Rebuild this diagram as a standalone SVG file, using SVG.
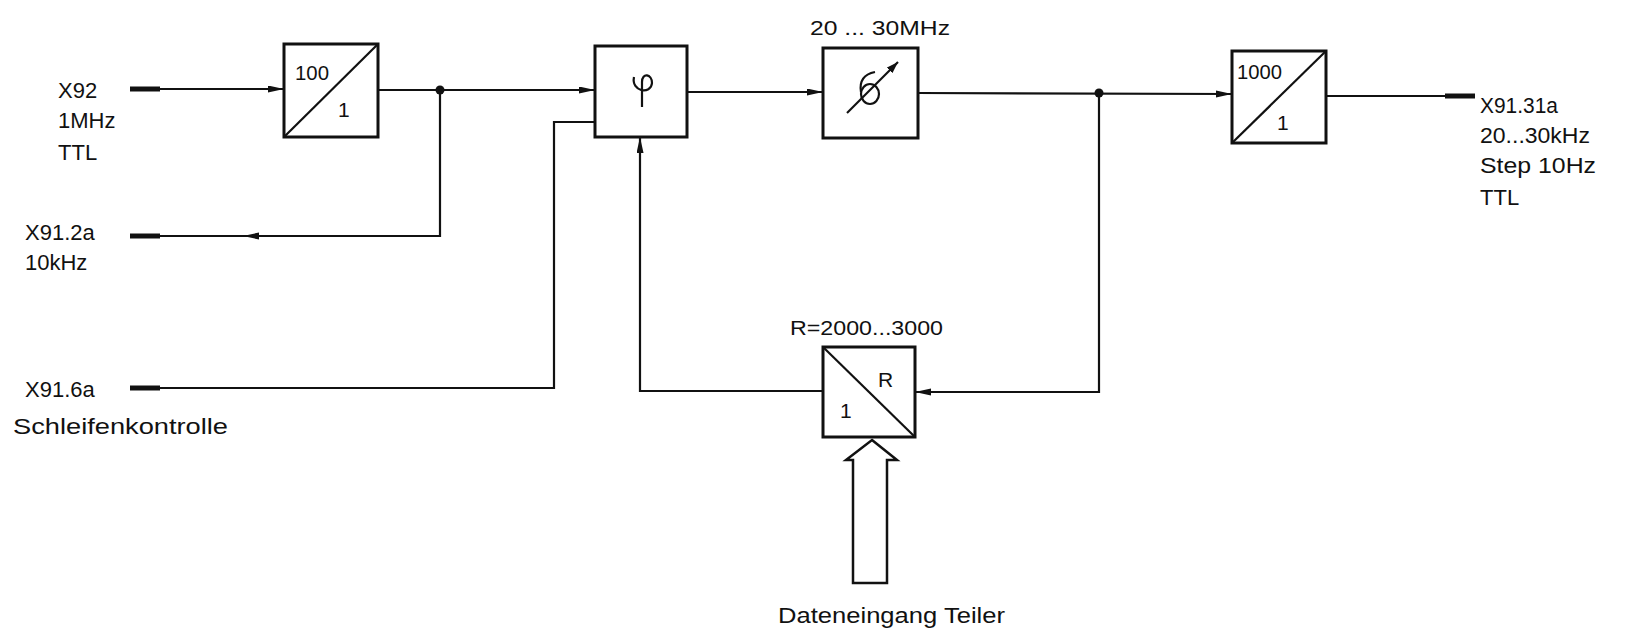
<svg xmlns="http://www.w3.org/2000/svg" width="1627" height="637" viewBox="0 0 1627 637">
<defs>
<marker id="arr" markerUnits="userSpaceOnUse" markerWidth="18" markerHeight="9" refX="16" refY="3.5" orient="auto">
<path d="M0,0 L16,3.5 L0,7 z" fill="#111"/>
</marker>
<marker id="arrs" markerUnits="userSpaceOnUse" markerWidth="14" markerHeight="10" refX="12" refY="4" orient="auto">
<path d="M0,0 L12,4 L0,8 z" fill="#111"/>
</marker>
</defs>
<style>
.box{fill:#fff;stroke:#111;stroke-width:3}
.ln{fill:none;stroke:#111;stroke-width:2.2}
.stub{stroke:#111;stroke-width:5}
.t{font-family:"Liberation Sans",Arial,sans-serif;font-size:22px;fill:#111}
.n{font-family:"Liberation Sans",Arial,sans-serif;font-size:21px;fill:#111}
.dot{fill:#111}
</style>
<rect width="1627" height="637" fill="#fff"/>

<g id="connectors">
<line class="stub" x1="130" y1="89" x2="160" y2="89"/>
<path class="ln" d="M160,89 L284,89" marker-end="url(#arr)"/>
<path class="ln" d="M378,90 L595,90" marker-end="url(#arr)"/>
<circle class="dot" cx="440" cy="90" r="4.5"/>
<path class="ln" d="M440,90 L440,236 L130,236"/>
<polygon points="243,236 259,232.5 259,239.5" fill="#111"/>
<line class="stub" x1="130" y1="236" x2="160" y2="236"/>
<line class="stub" x1="130" y1="388" x2="160" y2="388"/>
<path class="ln" d="M160,388 L554,388 L554,122 L595,122"/>
<path class="ln" d="M687,92 L823,92" marker-end="url(#arr)"/>
<path class="ln" d="M918,93 L1232,94" marker-end="url(#arr)"/>
<circle class="dot" cx="1099" cy="93" r="4.5"/>
<path class="ln" d="M1099,93 L1099,392 L915,392" marker-end="url(#arr)"/>
<path class="ln" d="M823,391 L640,391 L640,137" marker-end="url(#arr)"/>
<path class="ln" d="M1326,96 L1445,96"/>
<line class="stub" x1="1445" y1="96" x2="1475" y2="96"/>
<polygon points="872,440 897,460 887,460 887,583 853,583 853,460 846,460" fill="#fff" stroke="#111" stroke-width="2.5" stroke-linejoin="miter"/>
</g>

<g id="in-x92">
<text class="t" x="58" y="98">X92</text>
<text class="t" x="58" y="128">1MHz</text>
<text class="t" x="58" y="160">TTL</text>
</g>
<g id="out-x91-2a">
<text class="t" x="25" y="240">X91.2a</text>
<text class="t" x="25" y="270">10kHz</text>
</g>
<g id="in-x91-6a">
<text class="t" x="25" y="397">X91.6a</text>
<text class="t" x="13" y="434" textLength="215" lengthAdjust="spacingAndGlyphs">Schleifenkontrolle</text>
</g>

<g id="div100">
<rect class="box" x="284" y="44" width="94" height="93"/>
<line class="ln" x1="284" y1="137" x2="378" y2="44"/>
<text class="n" x="295" y="80" textLength="34" lengthAdjust="spacingAndGlyphs">100</text>
<text class="n" x="338" y="117">1</text>
</g>

<g id="phase">
<rect class="box" x="595" y="46" width="92" height="91"/>
<path class="ln" d="M634,77 C631,92 651,95 652,83 C652,74 642,72 642,82 L642,107"/>
</g>

<g id="vco">
<text class="n" x="810" y="35" textLength="140" lengthAdjust="spacingAndGlyphs">20 ... 30MHz</text>
<rect class="box" x="823" y="48" width="95" height="90"/>
<ellipse class="ln" cx="870" cy="94" rx="9" ry="10"/>
<path class="ln" d="M861,92 C859,80 865,74 875,72"/>
<path class="ln" d="M847,113 L898,62" marker-end="url(#arrs)"/>
</g>

<g id="div1000">
<rect class="box" x="1232" y="51" width="94" height="92"/>
<line class="ln" x1="1232" y1="143" x2="1326" y2="51"/>
<text class="n" x="1237" y="79" textLength="45" lengthAdjust="spacingAndGlyphs">1000</text>
<text class="n" x="1277" y="130">1</text>
</g>

<g id="out-x91-31a">
<text class="t" x="1480" y="113" textLength="78" lengthAdjust="spacingAndGlyphs">X91.31a</text>
<text class="t" x="1480" y="143" textLength="110" lengthAdjust="spacingAndGlyphs">20...30kHz</text>
<text class="t" x="1480" y="173" textLength="116" lengthAdjust="spacingAndGlyphs">Step 10Hz</text>
<text class="t" x="1480" y="205">TTL</text>
</g>

<g id="divR">
<text class="n" x="790" y="335" textLength="153" lengthAdjust="spacingAndGlyphs">R=2000...3000</text>
<rect class="box" x="823" y="347" width="92" height="90"/>
<line class="ln" x1="823" y1="347" x2="915" y2="437"/>
<text class="n" x="878" y="387">R</text>
<text class="n" x="840" y="418">1</text>
</g>

<g id="data-input">
<text class="t" x="778" y="623" textLength="227" lengthAdjust="spacingAndGlyphs">Dateneingang Teiler</text>
</g>
</svg>
